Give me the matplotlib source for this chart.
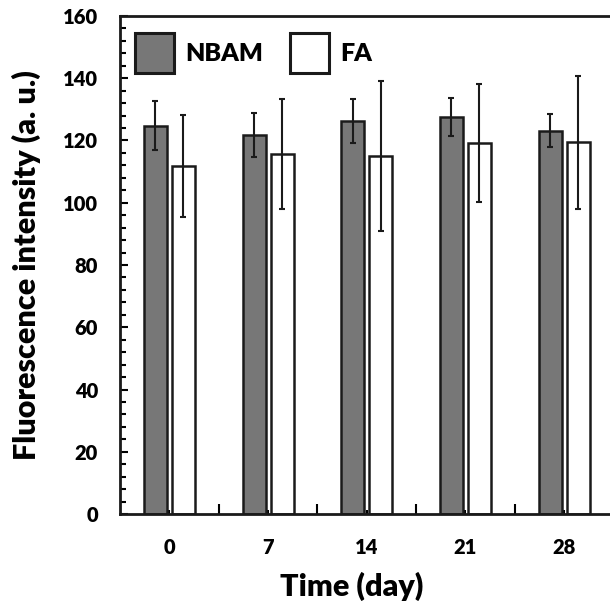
import matplotlib
matplotlib.use("Agg")
import matplotlib.pyplot as plt
import numpy as np
from matplotlib.ticker import MultipleLocator, FixedLocator
from matplotlib.patches import Patch

days = ["0", "7", "14", "21", "28"]
nbam = [124.8, 121.7, 126.2, 127.6, 123.1]
nbam_err = [7.8, 7.0, 7.0, 6.1, 5.3]
fa = [111.9, 115.6, 115.1, 119.1, 119.4]
fa_err = [16.4, 17.6, 24.1, 18.9, 21.3]

WT = 'heavy'
plt.rcParams['font.family'] = ['Lato', 'DejaVu Sans']
plt.rcParams['font.weight'] = WT

W, H = 610, 601
fig = plt.figure(figsize=(W/100, H/100), dpi=100)
left, right, top, bottom = 120, 613.5, 16, 514
ax = fig.add_axes([left/W, (H-bottom)/H, (right-left)/W, (bottom-top)/H])

x = np.arange(len(days))
bw = 0.233
off = 0.142
ec = '#1a1a1a'
ax.bar(x - off, nbam, bw, color='#777777', edgecolor=ec, linewidth=1.8, zorder=2)
ax.bar(x + off, fa, bw, color='white', edgecolor=ec, linewidth=1.8, zorder=2)
ax.errorbar(x - off, nbam, yerr=nbam_err, fmt='none', ecolor=ec, elinewidth=1.5,
            capsize=2, capthick=1.5, zorder=3)
ax.errorbar(x + off, fa, yerr=fa_err, fmt='none', ecolor=ec, elinewidth=1.5,
            capsize=2, capthick=1.5, zorder=3)

ax.set_xlim(-0.5, 4.5)
ax.set_ylim(0, 160)
ax.yaxis.set_major_locator(MultipleLocator(20))
ax.yaxis.set_minor_locator(MultipleLocator(4))
ax.set_xticks(x)
ax.set_xticklabels(days)
ax.xaxis.set_minor_locator(FixedLocator(x[:-1] + 0.5))
ax.tick_params(axis='y', which='major', direction='in', length=6, width=1.5,
               labelsize=14.5, pad=15.8)
ax.tick_params(axis='y', which='minor', direction='in', length=4, width=1.5)
ax.tick_params(axis='x', which='major', direction='in', length=3, width=1.5,
               labelsize=14.5, pad=17)
ax.tick_params(axis='x', which='minor', direction='in', length=7, width=1.5)
for lab in ax.get_xticklabels() + ax.get_yticklabels():
    lab.set_fontweight(WT)
for s in ax.spines.values():
    s.set_linewidth(2)
    s.set_color(ec)

ax.set_xlabel("Time (day)", fontsize=22, fontweight=WT)
ax.set_ylabel("Fluorescence intensity (a. u.)", fontsize=22, fontweight=WT)
ax.xaxis.set_label_coords(0.469, -0.1165)
ax.yaxis.set_label_coords(-0.160, 0.5)

handles = [Patch(facecolor='#777777', edgecolor=ec, linewidth=2.2),
           Patch(facecolor='white', edgecolor=ec, linewidth=2.2)]
leg = ax.legend(handles, ["NBAM", "FA"], loc='upper left', ncol=2, frameon=False,
                prop={'size': 18, 'weight': WT}, handlelength=1.56, handleheight=2.1,
                columnspacing=1.1, handletextpad=0.45, borderpad=0, borderaxespad=0,
                bbox_to_anchor=(0.030, 0.966))
leg.set_zorder(5)

fig.savefig("out.png", dpi=100)
